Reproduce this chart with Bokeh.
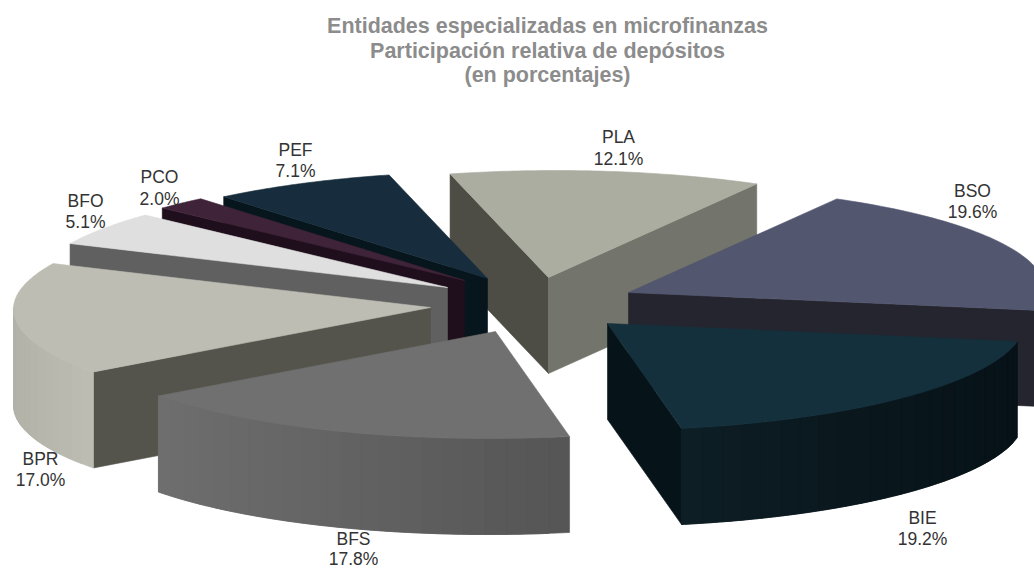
import numpy as np
from bokeh.core.properties import value
from bokeh.embed import file_html
from bokeh.models import ColumnDataSource
from bokeh.plotting import figure
from bokeh.resources import INLINE

# Depositos por entidad, en el sentido de las agujas del reloj desde PLA
entities = ["PLA", "BSO", "BIE", "BFS", "BPR", "BFO", "PCO", "PEF"]
shares = [12.1, 19.6, 19.2, 17.8, 17.0, 5.1, 2.0, 7.1]
title_lines = [
    "Entidades especializadas en microfinanzas",
    "Participación relativa de depósitos",
    "(en porcentajes)",
]

# Geometria de la torta en perspectiva
START_ANGLE = 345.4
RX, RY, DEPTH = 421, 107, 96
TILT_X, TILT_PHASE = 8, 30
apex = {
    "PLA": (548, 277), "BSO": (628, 292), "BIE": (607, 323), "BFS": (495, 331),
    "BPR": (430, 307), "BFO": (447, 287), "PCO": (464, 280), "PEF": (487, 278),
}
top_color = {
    "PLA": "#abada0", "BSO": "#53566f", "BIE": "#15303d", "BFS": "#707070",
    "BPR": "#bdbdb3", "BFO": "#dfdfdf", "PCO": "#3f2338", "PEF": "#172d3d",
}
# Paredes radiales: la del angulo inicial y la del angulo final de cada porcion
wall_color = {
    "PLA": ("#4d4d45", "#73746b"), "BSO": ("#24252e", "#24252e"),
    "BIE": ("#06141a", "#06141a"), "BFS": ("#555555", "#555555"),
    "BPR": ("#54544d", "#54544d"), "BFO": ("#606060", "#606060"),
    "PCO": ("#1f0f1c", "#1f0f1c"), "PEF": ("#07161c", "#07161c"),
}
# Degradado del borde curvo, de izquierda a derecha
rim_color = {
    "BSO": ("#24252e", "#24252e"), "BIE": ("#0e1e25", "#061217"),
    "BFS": ("#6e6e6e", "#555555"), "BPR": ("#b2b2a8", "#bdbdb3"),
}
draw_order = ["PLA", "PEF", "PCO", "BFO", "BSO", "BPR", "BFS", "BIE"]
label_pos = {
    "PLA": (618, 136, 158), "BSO": (972, 190, 211), "BIE": (922, 517, 538),
    "BFS": (353, 538, 558), "BPR": (40, 458, 479), "BFO": (85, 200, 221),
    "PCO": (159, 176, 198), "PEF": (295, 149, 170),
}


def point(name, deg):
    ax, ay = apex[name]
    t = np.radians(deg)
    shift = TILT_X * np.cos(t + np.radians(TILT_PHASE))
    return ax + RX * np.sin(t) + shift, ay - RY * np.cos(t)


def mix(c0, c1, f):
    a = [int(c0[i:i + 2], 16) for i in (1, 3, 5)]
    b = [int(c1[i:i + 2], 16) for i in (1, 3, 5)]
    return "#%02x%02x%02x" % tuple(round(u + (v - u) * f) for u, v in zip(a, b))


# Angulos acumulados a partir de las participaciones
spans = {}
cursor = START_ANGLE
total = sum(shares)
for name, share in zip(entities, shares):
    sweep = 360 * share / total
    spans[name] = (cursor, cursor + sweep)
    cursor += sweep

xs, ys, colors = [], [], []


def add(px, py, color):
    xs.append(list(px))
    ys.append(list(py))
    colors.append(color)


for name in draw_order:
    a0, a1 = spans[name]
    ax, ay = apex[name]
    mid = point(name, (a0 + a1) / 2)
    mx, my = (ax + mid[0]) / 2, (ay + mid[1]) / 2

    # Paredes radiales visibles: el interior de la porcion queda sobre la arista
    for deg, color in zip((a0, a1), wall_color[name]):
        ex, ey = point(name, deg)
        line_y = ay + (ey - ay) * (mx - ax) / (ex - ax)
        if my < line_y:
            add([ax, ex, ex, ax], [ay, ey, ey + DEPTH, ay + DEPTH], color)

    # Borde curvo en la mitad frontal de la elipse; cada franja pisa a la siguiente
    # para que el degradado no deje costuras
    if name in rim_color:
        lo, hi = max(a0 % 360, 90), min(a1 % 360 or 360, 270)
        edges = np.linspace(lo, hi, int((hi - lo) / 3) + 2)
        x_lo = min(point(name, d)[0] for d in edges)
        x_hi = max(point(name, d)[0] for d in edges)
        for i in range(len(edges) - 1):
            arc = np.linspace(edges[i], edges[min(i + 2, len(edges) - 1)], 8)
            px, py = point(name, arc)
            xm = point(name, (edges[i] + edges[i + 1]) / 2)[0]
            f = (xm - x_lo) / max(x_hi - x_lo, 1)
            add(np.r_[px, px[::-1]], np.r_[py, py[::-1] + DEPTH],
                mix(*rim_color[name], f))

    # Cara superior
    arc = np.linspace(a0, a1, 60)
    px, py = point(name, arc)
    add(np.r_[ax, px], np.r_[ay, py], top_color[name])

p = figure(
    width=1034, height=569, x_range=(0, 1034), y_range=(569, 0),
    output_backend="svg", toolbar_location=None, min_border=0,
    background_fill_color="white", border_fill_color="white",
    outline_line_color=None,
)
p.axis.visible = False
p.grid.visible = False

p.patches("xs", "ys", source=ColumnDataSource(dict(xs=xs, ys=ys, color=colors)),
          fill_color="color", line_color="color", line_width=0.6)

# Titulo centrado en tres lineas
p.text(x=[547] * 3, y=[25, 50, 74], text=title_lines,
       text_font=value("Liberation Sans"), text_font_size="21.5px",
       text_font_style="bold", text_color="#8c8c8c",
       text_align="center", text_baseline="middle")

# Rotulos: nombre y porcentaje de cada entidad
label_x, label_y, label_text = [], [], []
for name, share in zip(entities, shares):
    lx, y0, y1 = label_pos[name]
    label_x += [lx, lx]
    label_y += [y0, y1]
    label_text += [name, f"{share:.1f}%"]
p.text(x=label_x, y=label_y, text=label_text,
       text_font=value("Liberation Sans"), text_font_size="17.5px",
       text_color="#333333", text_align="center", text_baseline="middle")

open("out.html", "w").write(file_html(p, INLINE))
